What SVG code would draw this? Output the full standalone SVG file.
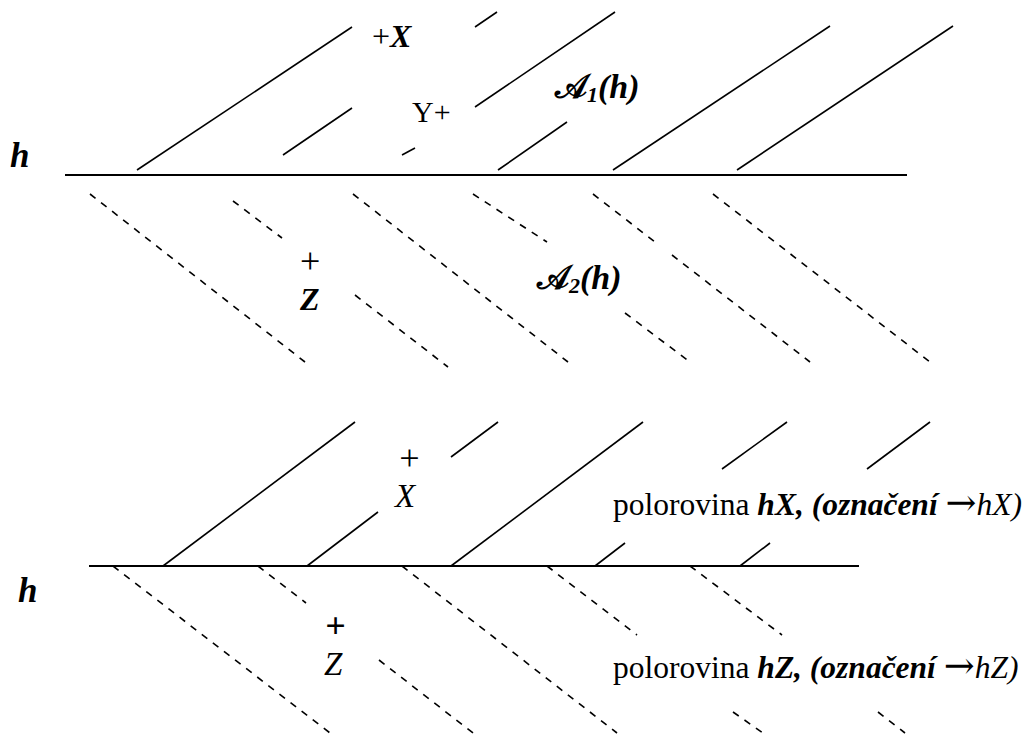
<svg xmlns="http://www.w3.org/2000/svg" width="1032" height="735" viewBox="0 0 1032 735">
<style>
.s{stroke:#000;stroke-width:1.6;fill:none;stroke-linecap:butt}
.b{stroke:#000;stroke-width:2;fill:none}
.d{stroke:#000;stroke-width:1.6;fill:none;stroke-dasharray:7 7}
text{font-family:"Liberation Serif","Times New Roman",serif;fill:#000}
.bi{font-weight:bold;font-style:italic}
.i{font-style:italic}
.cal{font-family:"DejaVu Serif","DejaVu Sans","Noto Sans",serif;font-style:normal;font-weight:bold}
.arr{font-family:"DejaVu Serif","DejaVu Sans",serif;font-style:normal;font-weight:normal}
</style>
<rect width="1032" height="735" fill="#fff"/>
<g id="top-halfplane">
  <line class="b" x1="65" y1="175" x2="907" y2="175"/>
  <g id="top-solid">
    <line class="s" x1="137" y1="170" x2="352" y2="27"/>
    <line class="s" x1="283" y1="155" x2="352" y2="108"/>
    <line class="s" x1="402" y1="155" x2="415" y2="148"/>
    <line class="s" x1="475" y1="27" x2="497" y2="12"/>
    <line class="s" x1="475" y1="107" x2="615" y2="12"/>
    <line class="s" x1="498" y1="170" x2="567" y2="122"/>
    <line class="s" x1="613" y1="170" x2="830" y2="26"/>
    <line class="s" x1="737" y1="170" x2="953" y2="26"/>
  </g>
  <g id="top-dashed">
    <line class="d" x1="90" y1="194" x2="305" y2="362"/>
    <line class="d" x1="233" y1="201" x2="282" y2="238"/>
    <line class="d" x1="353" y1="194" x2="568" y2="362"/>
    <line class="d" x1="473" y1="194" x2="547" y2="242"/>
    <line class="d" x1="355" y1="295" x2="448" y2="367"/>
    <line class="d" x1="593" y1="194" x2="655" y2="242"/>
    <line class="d" x1="672" y1="255" x2="810" y2="362"/>
    <line class="d" x1="713" y1="194" x2="930" y2="362"/>
    <line class="d" x1="625" y1="313" x2="690" y2="362"/>
  </g>
  <text class="bi" x="10" y="167" font-size="35">h</text>
  <text x="372" y="47" font-size="32">+<tspan class="bi">X</tspan></text>
  <text x="412" y="122" font-size="30">Y+</text>
  <text x="555" y="98" font-size="34"><tspan class="cal">𝒜</tspan><tspan class="bi" font-size="22" dy="4">1</tspan><tspan class="bi" dy="-4">(h)</tspan></text>
  <text x="300" y="273" font-size="36">+</text>
  <text class="bi" x="300" y="310" font-size="32">Z</text>
  <text x="537" y="289" font-size="34"><tspan class="cal">𝒜</tspan><tspan class="bi" font-size="22" dy="4">2</tspan><tspan class="bi" dy="-4">(h)</tspan></text>
</g>
<g id="bottom-halfplane">
  <line class="b" x1="89" y1="566" x2="859" y2="566"/>
  <g id="bottom-solid">
    <line class="s" x1="163" y1="566" x2="355" y2="422"/>
    <line class="s" x1="307" y1="566" x2="378" y2="512"/>
    <line class="s" x1="451" y1="457" x2="498" y2="422"/>
    <line class="s" x1="451" y1="566" x2="643" y2="422"/>
    <line class="s" x1="595" y1="566" x2="625" y2="543"/>
    <line class="s" x1="722" y1="469" x2="787" y2="422"/>
    <line class="s" x1="740" y1="566" x2="770" y2="543"/>
    <line class="s" x1="867" y1="469" x2="930" y2="422"/>
  </g>
  <g id="bottom-dashed">
    <line class="d" x1="113" y1="566" x2="330" y2="733"/>
    <line class="d" x1="258" y1="566" x2="306" y2="603"/>
    <line class="d" x1="402" y1="566" x2="617" y2="733"/>
    <line class="d" x1="379" y1="660" x2="473" y2="733"/>
    <line class="d" x1="547" y1="566" x2="637" y2="635"/>
    <line class="d" x1="690" y1="566" x2="782" y2="635"/>
    <line class="d" x1="733" y1="712" x2="763" y2="733"/>
    <line class="d" x1="878" y1="712" x2="905" y2="733"/>
  </g>
  <text class="bi" x="18" y="602" font-size="35">h</text>
  <text class="i" x="397" y="470" font-size="36">+</text>
  <text class="i" x="395" y="507" font-size="33">X</text>
  <text class="bi" x="325" y="638" font-size="36">+</text>
  <text class="i" x="324" y="675" font-size="33">Z</text>
  <text x="613" y="515" font-size="31.5">polorovina <tspan class="bi">hX, (označení</tspan> <tspan class="arr" font-size="37">→</tspan><tspan class="i">hX)</tspan></text>
  <text x="613" y="678" font-size="31.5">polorovina <tspan class="bi">hZ, (označení</tspan> <tspan class="arr" font-size="37">→</tspan><tspan class="i">hZ)</tspan></text>
</g>
</svg>
